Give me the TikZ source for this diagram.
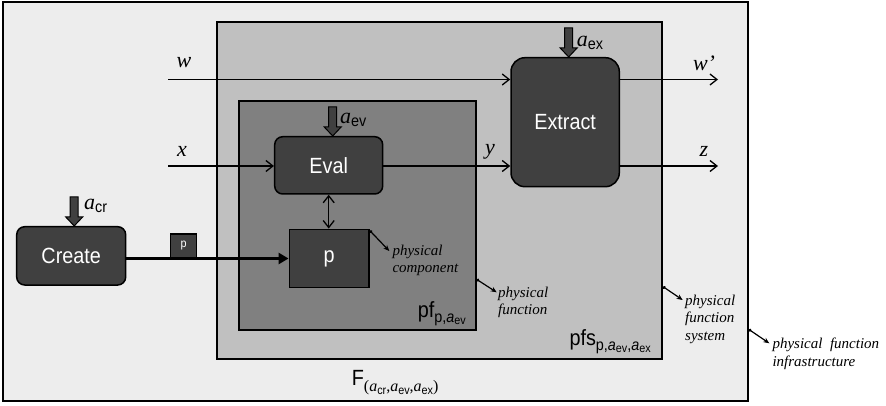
\documentclass[tikz,border=0pt]{standalone}
\usepackage{fontspec}
\setmainfont{Liberation Serif}
\setsansfont{Liberation Sans}
\newfontfamily\boxfont{Liberation Sans}[FakeStretch=0.9]
\usetikzlibrary{arrows.meta}

\definecolor{infrafill}{HTML}{EDEDED}
\definecolor{sysfill}{HTML}{C0C0C0}
\definecolor{funcfill}{HTML}{808080}
\definecolor{unitfill}{HTML}{404040}

\newcommand\fs[1]{\fontsize{#1}{#1}\selectfont}
% action parameter a_<sub>, full size and subscript size
\newcommand\actA[1]{{\fs{22}\itshape a}\raisebox{-3pt}{\fs{16}\boxfont #1}}
\newcommand\actB[1]{{\fs{16}\itshape a}\raisebox{-2.5pt}{\fs{12}\boxfont #1}}
% downward block arrow ending at the given point
\newcommand\actarrow[1]{\draw[blockarr] (#1) -- ++(-8.5,-9) -- ++(4.5,0) -- ++(0,-20) -- ++(8,0) -- ++(0,20) -- ++(4.5,0) -- cycle;}

\tikzset{
  frame/.style={draw=black, line width=2pt, inner sep=0pt},
  unit/.style={draw=black, fill=unitfill, line width=1.5pt, inner sep=0pt,
               text=white, font=\boxfont\fs{22}},
  blockarr/.style={draw=black, fill=unitfill, line width=1pt, line join=miter},
  flow/.style={line width=1.3pt, -{Straight Barb[length=7pt,width=11pt]}},
  varlbl/.style={inner sep=0pt, font=\rmfamily\itshape\fs{22}},
  sublbl/.style={inner sep=0pt, anchor=base west},
  note/.style={inner sep=0pt, anchor=base west, align=left,
               font=\rmfamily\itshape\fontsize{15}{17.7}\selectfont},
  notearr/.style={line width=1.2pt, {Circle[length=3pt]}-{Stealth[length=6pt,width=5pt]}}
}

\begin{document}
\begin{tikzpicture}[x=1pt, y=-1pt]
\useasboundingbox (0,0) rectangle (886,406);

% nested containers
\node[frame, fill=infrafill, minimum width=744.4pt, minimum height=399.3pt] (infra) at (375.5,201.35) {};
\node[frame, fill=sysfill, minimum width=444.7pt, minimum height=336.7pt] (pfs) at (439.65,190.65) {};
\node[frame, fill=funcfill, minimum width=236.2pt, minimum height=229pt] (pf) at (357.4,215.5) {};

% processing units
\node[unit, rounded corners=8pt, minimum width=108pt, minimum height=57.3pt] (eval) at (328.7,165.35) {Eval};
\node[unit, rounded corners=14pt, minimum width=108.3pt, minimum height=129pt] (extract) at (565.15,122.2) {Extract};
\node[unit, rounded corners=8pt, minimum width=109pt, minimum height=58.3pt] (create) at (71.2,255.85) {Create};
\node[unit, minimum width=79.7pt, minimum height=58.4pt] (p) at (329.15,258.5) {p};

% inputs and outputs
\coordinate (win) at (168,79.5);
\coordinate (wout) at (718,79.5);
\coordinate (xin) at (168,166);
\coordinate (zout) at (718,166);
\draw[flow] (win) -- (win -| extract.west);
\draw[flow] (win -| extract.east) -- (wout);
\draw[flow] (xin) -- (xin -| eval.west);
\draw[flow] (xin -| eval.east) -- (xin -| extract.west);
\draw[flow] (xin -| extract.east) -- (zout);
\draw[line width=1.3pt, {Straight Barb[length=7pt,width=11pt]}-{Straight Barb[length=7pt,width=11pt]}] (eval.south) -- (eval.south |- p.north);

% component handed from Create to p
\draw[line width=3pt, -{Triangle[length=10pt,width=11pt]}] (p.west -| create.east) -- (p.west);
\node[unit, line width=1pt, font=\boxfont\fs{12}, minimum width=26pt, minimum height=23.7pt] (token) at (183.7,245.85) {p};

% action parameters
\actarrow{[xshift=3pt]create.north}
\actarrow{[xshift=4pt]eval.north}
\actarrow{[xshift=3.5pt]extract.north}
\node[sublbl] (acr) at (84,209.5) {\actA{cr}};
\node[sublbl] (aev) at (340,124) {\actA{ev}};
\node[sublbl] (aex) at (576.7,46.5) {\actA{ex}};

% variable labels
\node[varlbl] (lw) at (184,63) {w};
\node[varlbl] (lx) at (182,151) {x};
\node[varlbl] (ly) at (490,152) {y};
\node[varlbl] (lw2) at (704,63) {w’};
\node[varlbl] (lz) at (704,151) {z};

% container names
\node[sublbl] (pfname) at (417.7,317.3) {{\fs{22}\boxfont pf}\raisebox{-5pt}{\fs{16}\boxfont p,\actB{ev}}};
\node[sublbl] (pfsname) at (569.3,345) {{\fs{22}\boxfont pfs}\raisebox{-5pt}{\fs{16}\boxfont p,\actB{ev},\actB{ex}}};
\node[sublbl] (fname) at (351.7,385.7) {{\fs{22}\boxfont F}\raisebox{-6pt}{\fs{16}(\actB{cr},\actB{ev},\actB{ex})}};

% explanatory notes (base anchor sits on the last line)
\node[note] (ncomp) at (392.3,272.7) {physical\\component};
\node[note] (nfunc) at (498,314.7) {physical\\function};
\node[note] (nsys) at (685,340.4) {physical\\function\\system};
\node[note] (ninfra) at (772.3,366) {physical~ function\\infrastructure};
\draw[notearr] ([yshift=-2pt]p.north east) -- ([xshift=-3pt,yshift=21.7pt]ncomp.base west);
\draw[notearr] ([yshift=-63.8pt]pf.east) -- ([xshift=-1.3pt,yshift=22.4pt]nfunc.base west);
\draw[notearr] ([yshift=-96pt]pfs.east) -- ([xshift=-2.3pt,yshift=40.4pt]nsys.base west);
\draw[notearr] ([yshift=-128pt]infra.east) -- ([xshift=-3pt,yshift=22.7pt]ninfra.base west);
\end{tikzpicture}
\end{document}
